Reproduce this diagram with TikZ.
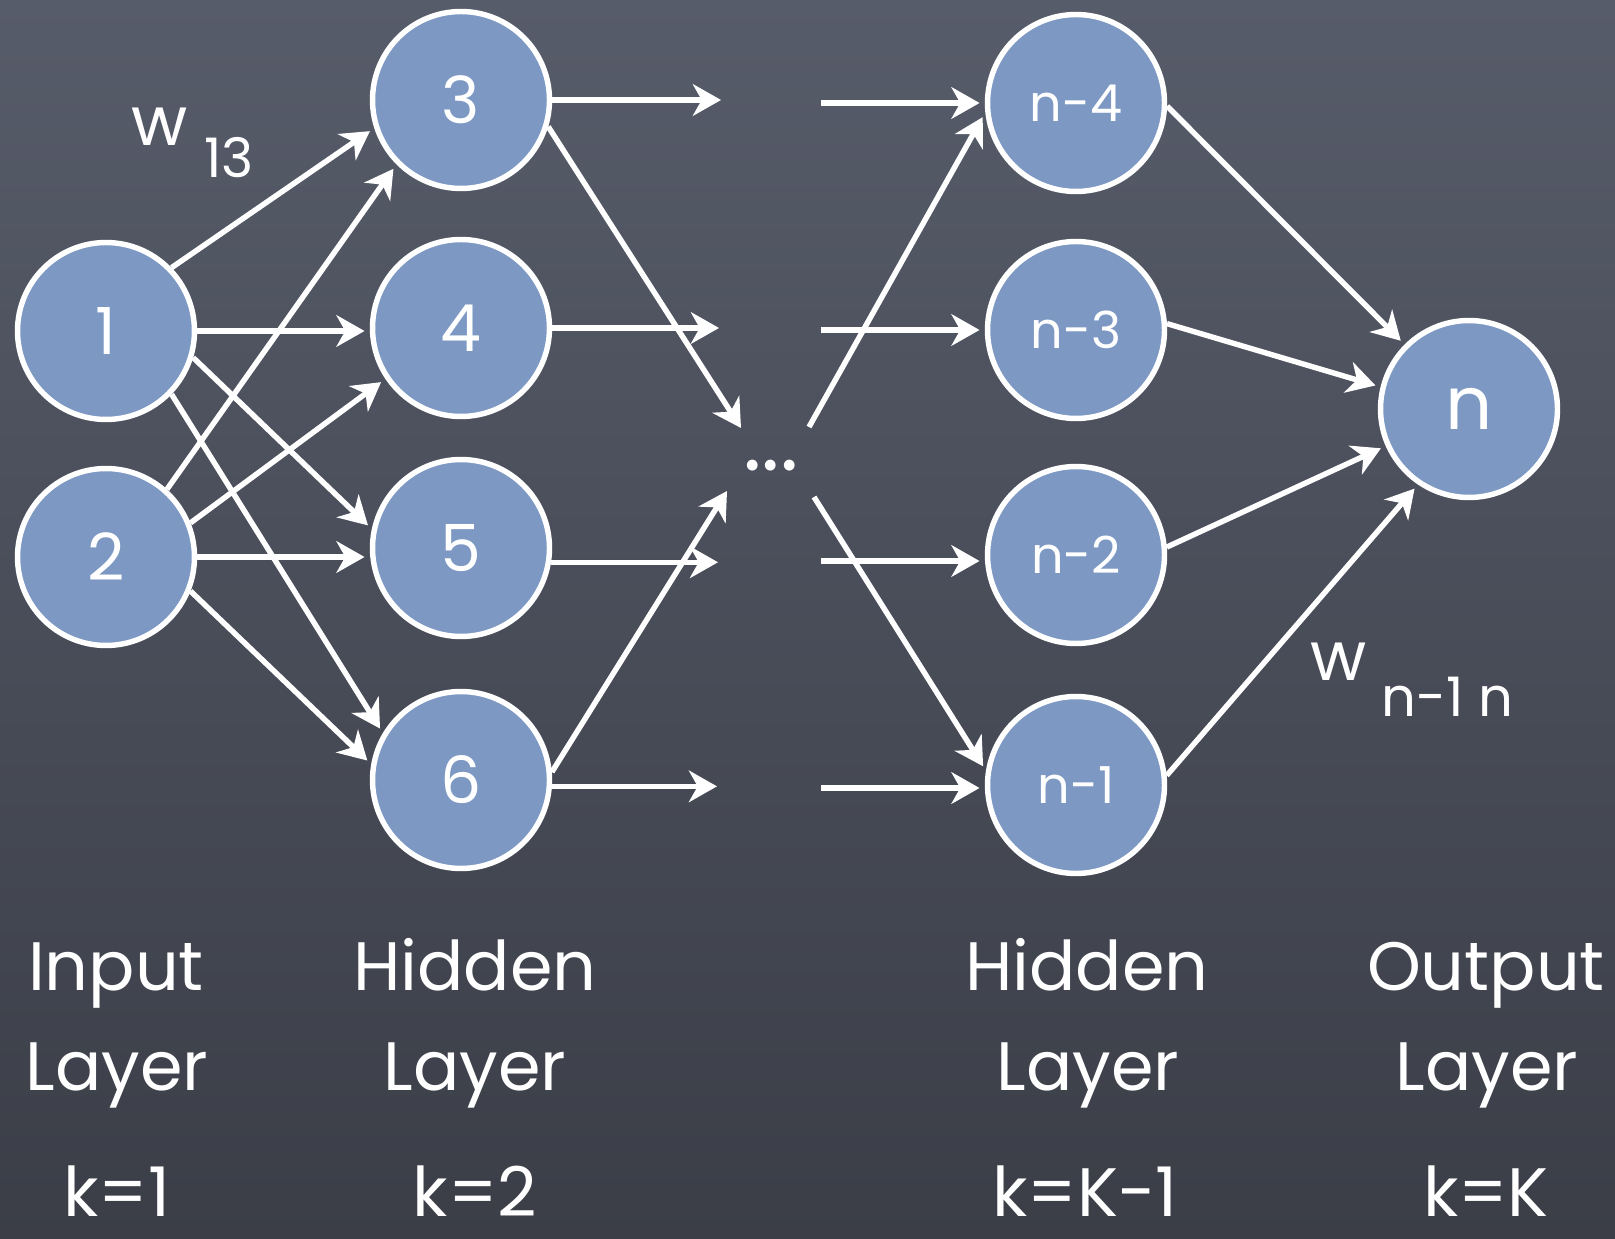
\documentclass[tikz,border=0pt]{standalone}
\usepackage{fontspec}
\setmainfont{Poppins}
\usetikzlibrary{arrows.meta}
\definecolor{boardtop}{HTML}{575C6A}
\definecolor{boardbot}{HTML}{3B3E47}
\definecolor{cell}{HTML}{7C98C3}
\begin{document}
\begin{tikzpicture}[x=0.02cm,y=-0.02cm,
  neuron/.style={circle, draw=white, line width=3.1pt, fill=cell,
    minimum size=3.54cm, inner sep=0pt, text=white,
    font=\fontsize{37}{37}\selectfont},
  smallneuron/.style={neuron, font=\fontsize{29}{29}\selectfont},
  link/.style={draw=white, line width=3.1pt,
    -{Stealth[length=16pt,width=18pt,inset=5pt]}, shorten >=3pt},
  stub/.style={link, shorten >=0pt},
  lbl/.style={text=white, font=\fontsize{39}{39}\selectfont, anchor=base,
    inner sep=0pt},
  wlbl/.style={text=white, font=\fontsize{39}{39}\selectfont, inner sep=0pt},
  sublbl/.style={text=white, font=\fontsize{31}{31}\selectfont, inner sep=0pt},
]
% chalkboard background
\useasboundingbox (0,0) rectangle (1615,1239);
\fill[top color=boardtop, bottom color=boardbot] (0,0) rectangle (1615,1239);

% input layer
\node[neuron] (n1) at (106,331) {1};
\node[neuron] (n2) at (106,557) {2};
% first hidden layer
\node[neuron] (n3) at (461,100) {3};
\node[neuron] (n4) at (461,328) {4};
\node[neuron] (n5) at (461,548) {5};
\node[neuron] (n6) at (461,780) {6};
% last hidden layer
\node[smallneuron] (m4) at (1076,103) {n-4};
\node[smallneuron] (m3) at (1076,330) {n-3};
\node[smallneuron] (m2) at (1076,555) {n-2};
\node[smallneuron] (m1) at (1076,785) {n-1};
% output layer
\node[neuron, font=\fontsize{42}{42}\selectfont] (out) at (1469,409) {n};

% omitted layers
\node[text=white, font=\fontsize{50}{50}\selectfont, inner sep=0pt] (dots) at (771,466) {...};

% loose ends of connectors around the omitted layers
\coordinate (s3) at (721,100);
\coordinate (s4) at (719,328);
\coordinate (s5) at (718,562);
\coordinate (s6) at (717,787);
\coordinate (d3) at (741,428);
\coordinate (d6) at (727,491);
\coordinate (r4) at (821,103);
\coordinate (r3) at (821,330);
\coordinate (r2) at (821,561);
\coordinate (r1) at (821,788);
\coordinate (q4) at (809,427);
\coordinate (q1) at (814,497);

% input -> first hidden layer
\draw[link] (n1.44) -- (n3.198);
\draw[link] (n1.east) -- (n1.east -| n4.west);
\draw[link] (n1.-17) -- (n5.168);
\draw[link] (n1.-44) -- (n6.149);
\draw[link] (n2.48) -- (n3.225);
\draw[link] (n2.22) -- (n4.214);
\draw[link] (n2.east) -- (n2.east -| n5.west);
\draw[link] (n2.-22) -- (n6.170);

% first hidden layer -> omitted layers
\draw[stub] (n3.east) -- (s3);
\draw[stub] (n4.east) -- (s4);
\draw[stub] (n5.-9) -- (n5.-9 -| s5);
\draw[stub] (n6.-4) -- (n6.-4 -| s6);
\draw[stub] (n3.-17) -- (d3);
\draw[stub] (n6.5) -- (d6);

% omitted layers -> last hidden layer
\draw[link] (r4) -- (r4 -| m4.west);
\draw[link] (q4) -- (m4.186);
\draw[link] (r3) -- (r3 -| m3.west);
\draw[link] (r2) -- (r2 -| m2.west);
\draw[link] (q1) -- (m1.171);
\draw[link] (r1) -- (r1 -| m1.west);

% last hidden layer -> output
\draw[link] (m4.-2) -- (out.135);
\draw[link] (m3.4) -- (out.166);
\draw[link] (m2.5) -- (out.204);
\draw[link] (m1.6) -- (out.236);

% weights
\node[wlbl] (w13) at (160,127) {w};
\node[sublbl] (w13i) at (229,158) {13};
\node[wlbl] (wn) at (1339,662) {w};
\node[sublbl] (wni) at (1447,697) {n-1 n};

% layer captions
\node[lbl] (c1a) at (116,990) {Input};
\node[lbl] (c1b) at (117,1090) {Layer};
\node[lbl] (c1c) at (117,1216) {k=1};
\node[lbl] (c2a) at (475,990) {Hidden};
\node[lbl] (c2b) at (475,1090) {Layer};
\node[lbl] (c2c) at (475,1216) {k=2};
\node[lbl] (c3a) at (1087,990) {Hidden};
\node[lbl] (c3b) at (1088,1090) {Layer};
\node[lbl] (c3c) at (1085,1216) {k=K-1};
\node[lbl] (c4a) at (1486,990) {Output};
\node[lbl] (c4b) at (1487,1090) {Layer};
\node[lbl] (c4c) at (1486,1216) {k=K};
\end{tikzpicture}
\end{document}
